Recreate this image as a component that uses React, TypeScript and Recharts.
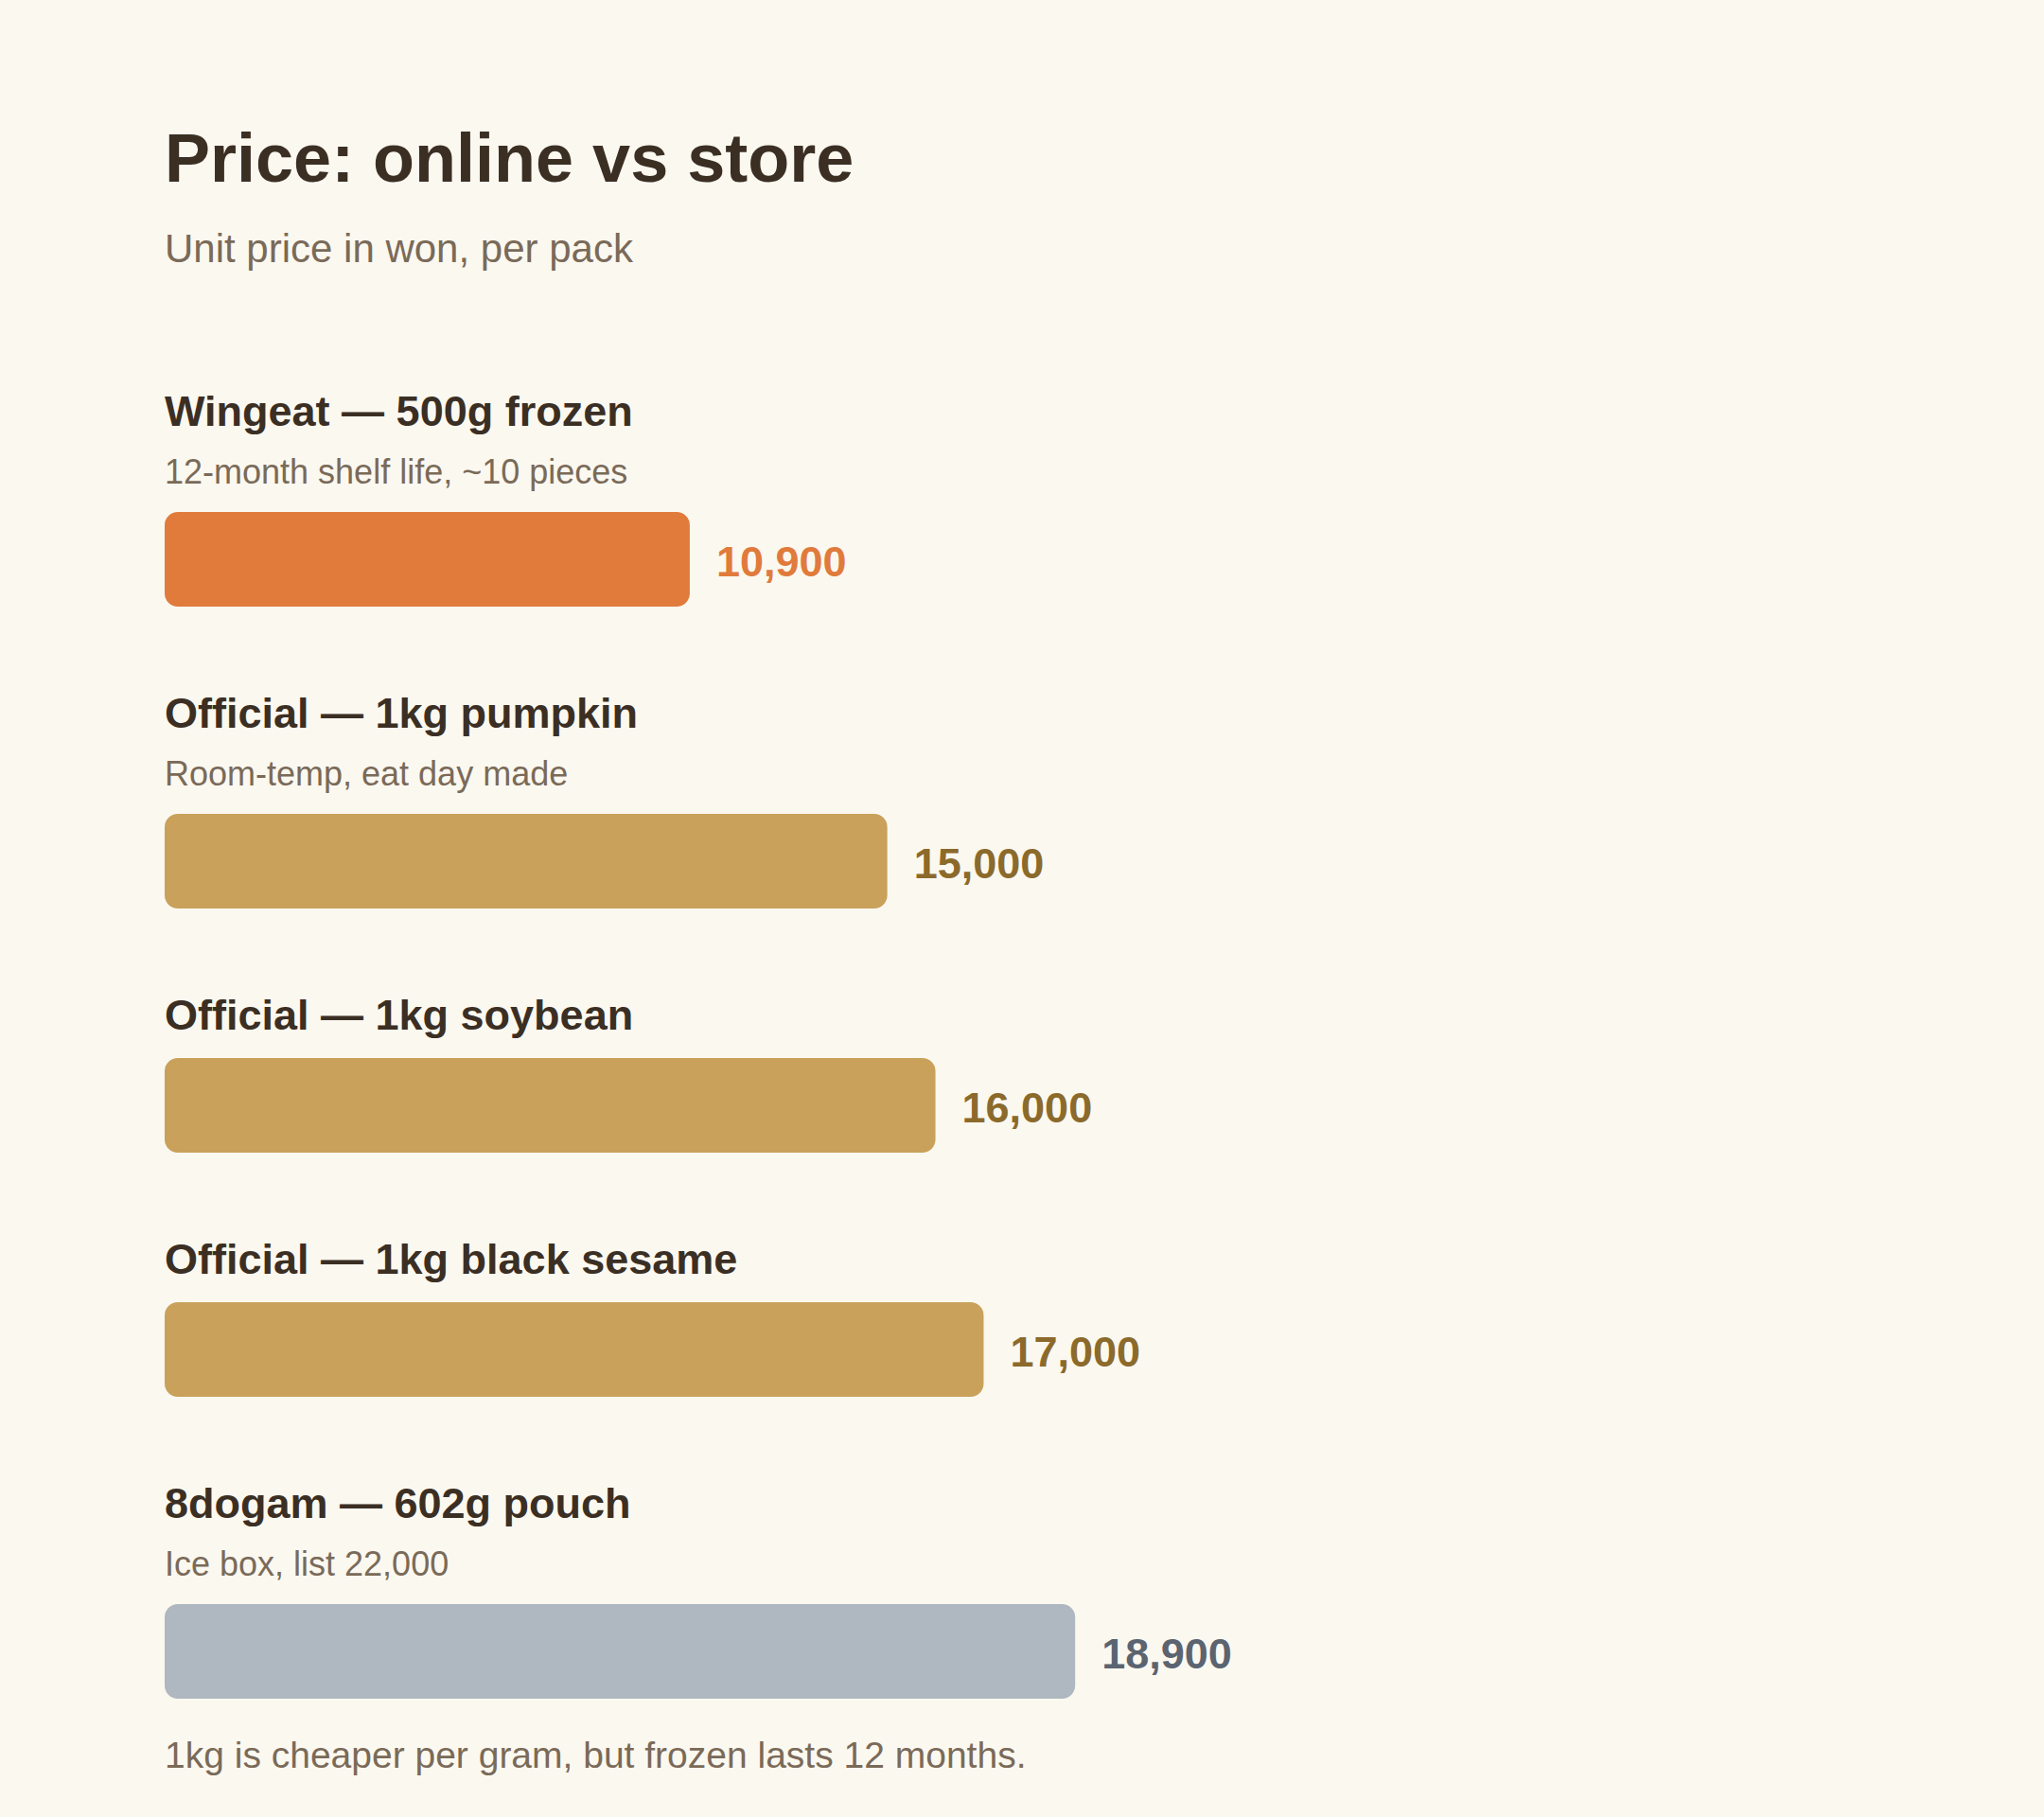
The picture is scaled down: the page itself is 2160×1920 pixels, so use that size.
import React from 'react';
import { BarChart, Bar, XAxis, YAxis, LabelList } from 'recharts';

const title = 'Price: online vs store';
const subtitle = 'Unit price in won, per pack';
const categories = [
  'Wingeat — 500g frozen',
  'Official — 1kg pumpkin',
  'Official — 1kg soybean',
  'Official — 1kg black sesame',
  '8dogam — 602g pouch',
];
const notes = [
  '12-month shelf life, ~10 pieces',
  'Room-temp, eat day made',
  '',
  '',
  'Ice box, list 22,000',
];
const prices = [10900, 15000, 16000, 17000, 18900];
const groups = ['online', 'official', 'official', 'official', 'pouch'];
const footnote = '1kg is cheaper per gram, but frozen lasts 12 months.';
const axisMax = 22000;

const barColors: Record<string, string> = {
  online: '#e07b3c',
  official: '#c9a15b',
  pouch: '#afb7c0',
};
const valueColors: Record<string, string> = {
  online: '#e07b3c',
  official: '#8b6a2b',
  pouch: '#5b6470',
};

const FONT = '"Liberation Sans", Arial, Helvetica, sans-serif';
const DARK = '#3b2f24';
const MUTED = '#7a6a58';

function ItemBar({ index }: { index: number }) {
  const group = groups[index];
  const data = [{ name: categories[index], value: prices[index] }];
  const renderValue = (props: any) => {
    const { x, y, width, height, value } = props;
    return (
      <text
        x={Number(x) + Number(width) + 28}
        y={Number(y) + Number(height) / 2 + 18}
        fill={valueColors[group]}
        fontSize={45}
        fontWeight={700}
        fontFamily={FONT}
        textAnchor="start"
      >
        {Number(value).toLocaleString('en-US')}
      </text>
    );
  };
  return (
    <BarChart
      width={1400}
      height={100}
      data={data}
      layout="vertical"
      margin={{ top: 0, right: 280, bottom: 0, left: 0 }}
      barCategoryGap={0}
    >
      <XAxis type="number" domain={[0, axisMax]} hide />
      <YAxis type="category" dataKey="name" hide />
      <Bar
        dataKey="value"
        fill={barColors[group]}
        radius={14}
        isAnimationActive={false}
      >
        <LabelList dataKey="value" content={renderValue} />
      </Bar>
    </BarChart>
  );
}

export default function App() {
  return (
    <div
      style={{
        position: 'absolute',
        left: 0,
        top: 0,
        width: 2160,
        height: 1920,
        background: '#fbf8f0',
        fontFamily: FONT,
        paddingLeft: 174,
        boxSizing: 'border-box',
        overflow: 'hidden',
      }}
    >
      <div
        style={{
          marginTop: 131,
          fontSize: 72,
          lineHeight: '72px',
          fontWeight: 700,
          color: DARK,
        }}
      >
        {title}
      </div>
      <div
        style={{
          marginTop: 39,
          fontSize: 42,
          lineHeight: '42px',
          color: MUTED,
        }}
      >
        {subtitle}
      </div>
      {categories.map((cat, i) => (
        <div key={cat} style={{ marginTop: i === 0 ? 128 : 90 }}>
          <div
            style={{
              fontSize: 45,
              lineHeight: '45px',
              fontWeight: 700,
              color: DARK,
            }}
          >
            {cat}
          </div>
          {notes[i] ? (
            <div
              style={{
                marginTop: 24,
                fontSize: 36,
                lineHeight: '36px',
                color: MUTED,
              }}
            >
              {notes[i]}
            </div>
          ) : null}
          <div style={{ marginTop: notes[i] ? 24 : 23, height: 100 }}>
            <ItemBar index={i} />
          </div>
        </div>
      ))}
      <div
        style={{
          marginTop: 40,
          fontSize: 39,
          lineHeight: '39px',
          color: MUTED,
        }}
      >
        {footnote}
      </div>
    </div>
  );
}
